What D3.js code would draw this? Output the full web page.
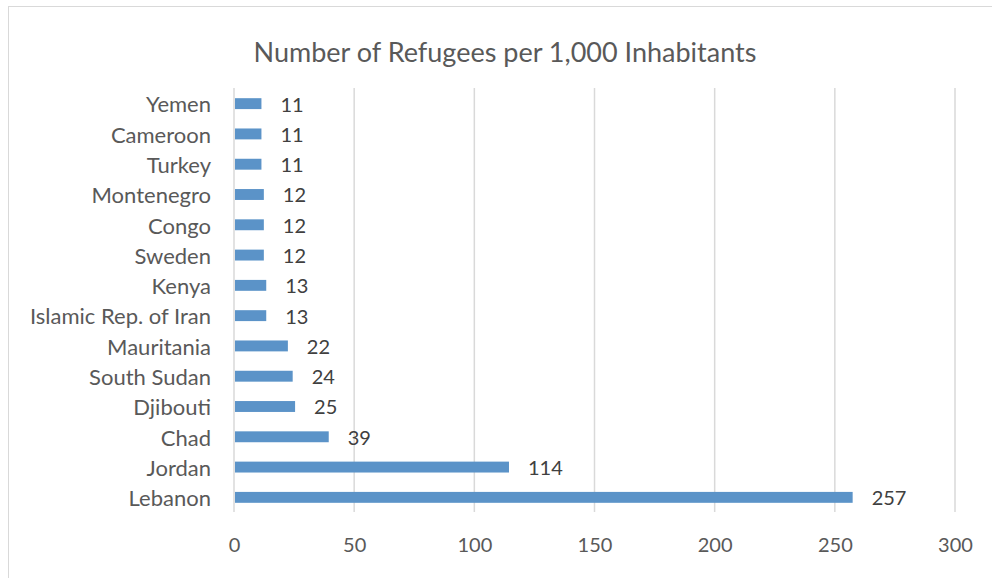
<!DOCTYPE html>
<html>
<head>
<meta charset="utf-8">
<script src="https://cdn.jsdelivr.net/npm/d3@7"></script>
<style>
  body { margin: 0; background: #fff; }
  svg { font-family: Lato, "Open Sans", sans-serif; }
</style>
</head>
<body>
<div id="chart"></div>
<script>
// data, top to bottom as drawn
var countries = ["Yemen", "Cameroon", "Turkey", "Montenegro", "Congo", "Sweden", "Kenya",
  "Islamic Rep. of Iran", "Mauritania", "South Sudan", "Djibouti", "Chad", "Jordan", "Lebanon"];
var refugees = [11, 11, 11, 12, 12, 12, 13, 13, 22, 24, 25, 39, 114, 257];
var xTicks = [0, 50, 100, 150, 200, 250, 300];

var W = 992, H = 578;
var margin = {top: 88, left: 234, right: 37, bottom: 66};
var width = W - margin.left - margin.right,
    height = H - margin.top - margin.bottom;

var data = countries.map(function (c, i) { return {name: c, value: refugees[i]}; });

var svg = d3.select("#chart").append("svg")
  .attr("width", W)
  .attr("height", H);

// outer frame
svg.append("rect")
  .attr("x", 8.5).attr("y", 6.5)
  .attr("width", 1000).attr("height", 600)
  .attr("fill", "none")
  .attr("stroke", "#d9d9d9");

svg.append("text")
  .attr("x", 505)
  .attr("y", 62)
  .attr("text-anchor", "middle")
  .attr("fill", "#595959")
  .style("font-size", "27px")
  .text("Number of Refugees per 1,000 Inhabitants");

var g = svg.append("g")
  .attr("transform", "translate(" + margin.left + "," + margin.top + ")");

var x = d3.scaleLinear()
  .domain([0, 300])
  .range([0, width]);

var y = d3.scaleBand()
  .domain(countries)
  .range([0, height])
  .paddingInner(0.64)
  .paddingOuter(0.32);

// gridlines
g.selectAll(".grid")
  .data(xTicks)
  .enter()
  .append("line")
  .attr("x1", function (d) { return x(d); })
  .attr("x2", function (d) { return x(d); })
  .attr("y1", 0)
  .attr("y2", height)
  .attr("stroke", "#d9d9d9")
  .attr("stroke-width", 1.5);

// x axis labels
var xAxis = g.append("g")
  .attr("transform", "translate(0," + height + ")")
  .call(d3.axisBottom(x).tickValues(xTicks).tickSize(0).tickPadding(26));
xAxis.select(".domain").remove();
xAxis.selectAll("text")
  .attr("fill", "#595959")
  .style("font-size", "20px")
  .style("font-family", "Lato, sans-serif");

// y axis labels
var yAxis = g.append("g")
  .call(d3.axisLeft(y).tickSize(0).tickPadding(23));
yAxis.select(".domain").remove();
yAxis.selectAll("text")
  .attr("fill", "#595959")
  .attr("dy", "0.42em")
  .style("font-size", "22px")
  .style("font-family", "Lato, sans-serif");

// bars
g.selectAll(".bar")
  .data(data)
  .enter()
  .append("rect")
  .attr("x", x(0) + 1)
  .attr("y", function (d) { return y(d.name) + 0.5; })
  .attr("width", function (d) { return x(d.value) - x(0); })
  .attr("height", y.bandwidth())
  .attr("fill", "#5b93c8");

// value labels
g.selectAll(".val")
  .data(data)
  .enter()
  .append("text")
  .attr("x", function (d) { return x(d.value) + 20; })
  .attr("y", function (d) { return y(d.name) + y.bandwidth() / 2; })
  .attr("dy", "0.42em")
  .attr("fill", "#404040")
  .style("font-size", "20px")
  .text(function (d) { return d.value; });
</script>
</body>
</html>
